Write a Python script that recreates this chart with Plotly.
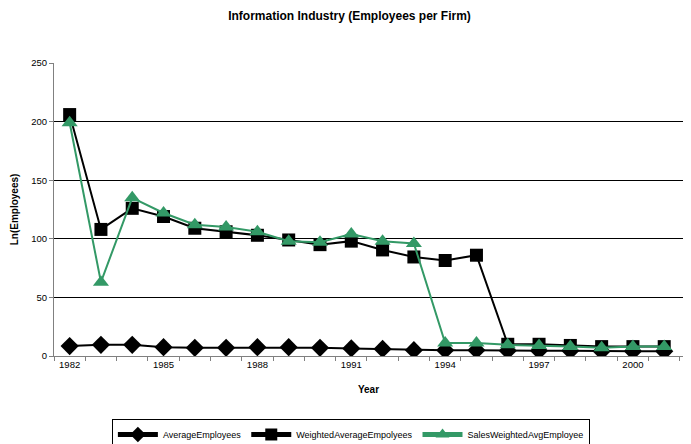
import plotly.graph_objects as go

years = list(range(1982, 2002))
average_employees = [8.5, 9.5, 9.5, 7.5, 7, 7, 7.5, 7.5, 7, 6.5, 6, 5, 5, 5, 4.5, 4.5, 4.5, 4, 4, 4]
weighted_avg = [206, 108, 126, 119, 109, 106, 103, 99, 95, 98, 90.5, 84.5, 81.5, 86, 10, 10, 9, 8, 8, 8]
sales_weighted = [199, 63, 135, 122, 112, 110, 106, 98, 97, 104, 98, 96, 11, 11, 9.5, 9, 8, 7, 8, 8]
x_tick_labels = [1982, 1985, 1988, 1991, 1994, 1997, 2000]
y_ticks = [0, 50, 100, 150, 200, 250]

GREEN = "#339966"
FONT = "Liberation Sans, Arial, sans-serif"

# The page body has an 8px margin, so the figure is sized/offset to compensate.
W, H = 683, 436

fig = go.Figure()
fig.add_trace(go.Scatter(x=years, y=average_employees, name="AverageEmployees",
                         mode="lines+markers",
                         line=dict(color="black", width=2),
                         marker=dict(symbol="diamond", size=14, color="black")))
fig.add_trace(go.Scatter(x=years, y=weighted_avg, name="WeightedAverageEmpolyees",
                         mode="lines+markers",
                         line=dict(color="black", width=2),
                         marker=dict(symbol="square", size=13, color="black")))
fig.add_trace(go.Scatter(x=years, y=sales_weighted, name="SalesWeightedAvgEmployee",
                         mode="lines+markers",
                         line=dict(color=GREEN, width=2),
                         marker=dict(symbol="triangle-up", size=14, color=GREEN)))

fig.update_layout(
    width=W, height=H,
    margin=dict(l=46, r=8, t=55, b=88, autoexpand=False),
    paper_bgcolor="white", plot_bgcolor="white",
    font=dict(family=FONT, size=9.5, color="black"),
    title=dict(text="<b>Information Industry (Employees per Firm)</b>",
               x=0.5, xanchor="center", y=1 - 8/H, yanchor="middle",
               font=dict(size=12, family=FONT, color="black")),
    showlegend=True,
    legend=dict(orientation="h", x=0.472, xanchor="center", y=-0.215, yanchor="top",
                bordercolor="black", borderwidth=1, font=dict(size=9),
                itemsizing="constant", itemwidth=40, tracegroupgap=0),
    xaxis=dict(range=[1981.5, 2001.6], tickmode="array", tickvals=x_tick_labels,
               ticktext=[str(v) for v in x_tick_labels], ticks="", showgrid=False,
               showline=True, linecolor="#808080", linewidth=1, zeroline=False,
               automargin=False,
               minor=dict(tickmode="array", tickvals=[y - 0.5 for y in range(1982, 2003)],
                          ticks="outside", ticklen=4, tickcolor="#808080", showgrid=False),
               title=dict(text="<b>Year</b>", font=dict(size=10), standoff=16)),
    yaxis=dict(range=[0, 250], tickmode="array", tickvals=y_ticks,
               ticks="outside", ticklen=4, tickcolor="#808080",
               showgrid=True, gridcolor="black", gridwidth=1,
               showline=True, linecolor="#808080", linewidth=1, zeroline=False,
               automargin=False,
               title=dict(text="<b>Ln(Employees)</b>", font=dict(size=10), standoff=10)),
)

fig.write_html("out.html")
